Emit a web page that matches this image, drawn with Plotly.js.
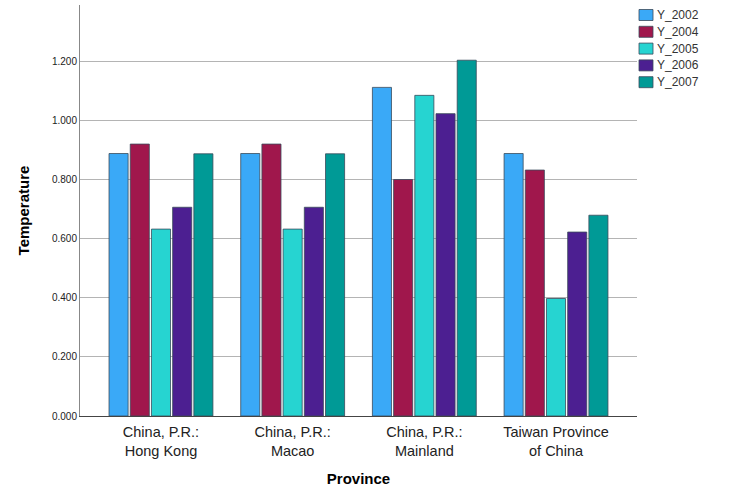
<!DOCTYPE html>
<html>
<head>
<meta charset="utf-8">
<script src="https://cdn.plot.ly/plotly-3.0.1.min.js"></script>
<style>html,body{margin:0;padding:0;background:#fff;}#chart{width:746px;height:498px;}</style>
</head>
<body>
<div id="chart"></div>
<script>
const categories = ["China, P.R.:<br>Hong Kong", "China, P.R.:<br>Macao", "China, P.R.:<br>Mainland", "Taiwan Province<br>of China"];
const seriesNames = ["Y_2002", "Y_2004", "Y_2005", "Y_2006", "Y_2007"];
const Y_2002 = [0.889, 0.889, 1.113, 0.889];
const Y_2004 = [0.921, 0.921, 0.801, 0.833];
const Y_2005 = [0.633, 0.633, 1.086, 0.398];
const Y_2006 = [0.707, 0.707, 1.024, 0.623];
const Y_2007 = [0.888, 0.888, 1.205, 0.680];
const seriesValues = [Y_2002, Y_2004, Y_2005, Y_2006, Y_2007];
const colors = ["#3aa9f7", "#a0174c", "#26d4d1", "#4c1f91", "#009a96"];

const traces = seriesNames.map((name, i) => ({
  type: "bar",
  name: name,
  x: categories,
  y: seriesValues[i],
  marker: {color: colors[i], line: {color: "#3a4a5a", width: 0.8}},
  hoverinfo: "skip"
}));

// plot area in pixels: left 80, right 637, top 5, bottom 416
const PL = 80, PR = 637, PT = 5, PB = 416;
const px2x = p => (p - PL) / (PR - PL);
const px2y = p => (PB - p) / (PB - PT);

// legend drawn as shapes + annotations (compact SPSS-style spacing)
const legendShapes = [];
const legendAnnotations = [];
seriesNames.forEach((name, i) => {
  const cy = 15 + i * 16.8;
  legendShapes.push({
    type: "rect", xref: "paper", yref: "paper",
    x0: px2x(639), x1: px2x(653), y0: px2y(cy - 5.5), y1: px2y(cy + 5.5),
    fillcolor: colors[i], line: {color: "#3a4a5a", width: 0.8}
  });
  legendAnnotations.push({
    xref: "paper", yref: "paper", x: px2x(655), y: px2y(cy),
    xanchor: "left", yanchor: "middle", showarrow: false,
    text: name, font: {size: 12, color: "#333"}
  });
});

const layout = {
  width: 746, height: 498,
  margin: {l: PL, r: 746 - PR, t: PT, b: 498 - PB, autoexpand: false},
  paper_bgcolor: "#fff", plot_bgcolor: "#fff",
  barmode: "group", bargap: 0.195, bargroupgap: 0.1,
  font: {family: "Liberation Sans, Arial, sans-serif", color: "#000"},
  showlegend: false,
  shapes: legendShapes,
  annotations: legendAnnotations,
  xaxis: {
    type: "category", range: [-0.615, 3.615],
    showline: true, linecolor: "#444", linewidth: 1,
    ticks: "", showgrid: false, zeroline: false, ticklabelstandoff: 3,
    tickfont: {size: 14.5, color: "#222"},
    title: {text: "<b>Province</b>", font: {size: 15, color: "#000"}, standoff: 15}
  },
  yaxis: {
    range: [0, 1.392], dtick: 0.2, tick0: 0, tickformat: ".3f",
    showline: true, linecolor: "#888", linewidth: 1,
    showgrid: true, gridcolor: "#b4b4b4", gridwidth: 1, zeroline: false,
    ticks: "", tickfont: {size: 10, color: "#222"},
    title: {text: "<b>Temperature</b>", font: {size: 15, color: "#000"}, standoff: 18}
  }
};

Plotly.newPlot("chart", traces, layout, {displayModeBar: false, staticPlot: true});
</script>
</body>
</html>
